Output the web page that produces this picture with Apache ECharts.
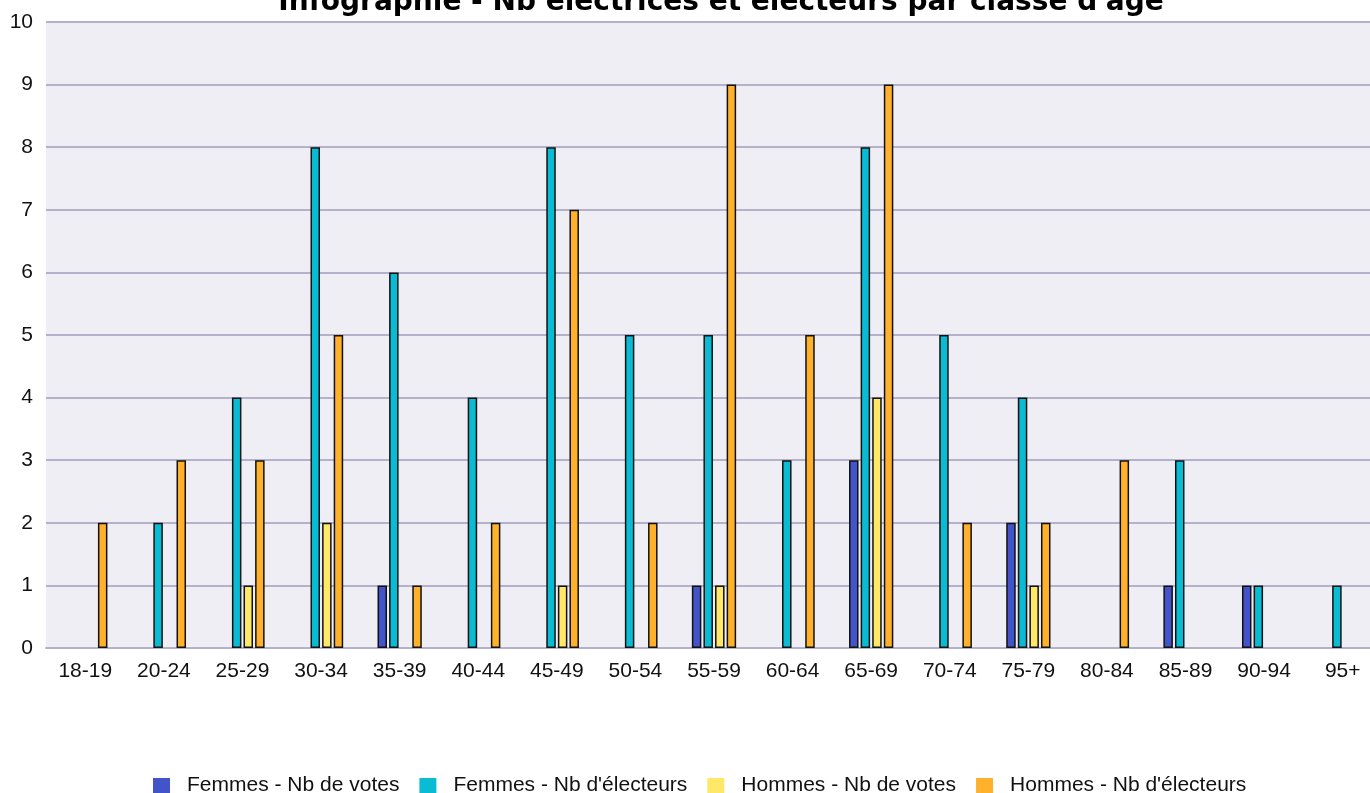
<!DOCTYPE html>
<html>
<head>
<meta charset="utf-8">
<script src="https://cdn.jsdelivr.net/npm/echarts@6/dist/echarts.min.js"></script>
<style>
html, body { margin: 0; padding: 0; background: #fff; }
#chart { width: 1370px; height: 793px; }
</style>
</head>
<body>
<div id="chart"></div>
<script>
// classes d'age
var categories = ['18-19', '20-24', '25-29', '30-34', '35-39', '40-44', '45-49', '50-54', '55-59',
	'60-64', '65-69', '70-74', '75-79', '80-84', '85-89', '90-94', '95+'];
var femmesVotes    = [0, 0, 0, 0, 1, 0, 0, 0, 1, 0, 3, 0, 2, 0, 1, 1, 0];
var femmesElecteurs = [0, 2, 4, 8, 6, 4, 8, 5, 5, 3, 8, 5, 4, 0, 3, 1, 1];
var hommesVotes    = [0, 0, 1, 2, 0, 0, 1, 0, 1, 0, 4, 0, 1, 0, 0, 0, 0];
var hommesElecteurs = [2, 3, 3, 5, 1, 2, 7, 2, 9, 5, 9, 2, 2, 3, 0, 0, 0];
var yTicks = [0, 1, 2, 3, 4, 5, 6, 7, 8, 9, 10];

var font = '"Liberation Sans", Arial, sans-serif';

function noZero(arr) {
	// une barre a 0 ne se dessine pas
	return arr.map(function (v) { return v === 0 ? '-' : v; });
}

function barSerie(name, data, color) {
	return {
		name: name,
		type: 'bar',
		barWidth: 9.5,
		barGap: '22%',
		data: noZero(data),
		itemStyle: { color: color, borderColor: '#111', borderWidth: 1.5 }
	};
}

var myChart = echarts.init(document.getElementById('chart'));
var option = {
	animation: false,
	title: {
		text: "Infographie - Nb électrices et électeurs par classe d'âge",
		left: 716,
		textAlign: 'center',
		top: -16,
		textStyle: { fontFamily: '"DejaVu Sans", Verdana, sans-serif', fontSize: 28, fontWeight: 'bold', color: '#000' }
	},
	legend: {
		left: 153,
		top: 775,
		padding: 0,
		itemWidth: 17,
		itemHeight: 15,
		itemGap: 20,
		icon: 'rect',
		itemStyle: { borderWidth: 0 },
		textStyle: { fontFamily: font, fontSize: 21, color: '#111', padding: [0, 0, 0, 12] },
		data: ['Femmes - Nb de votes', "Femmes - Nb d'électeurs", 'Hommes - Nb de votes', "Hommes - Nb d'électeurs"]
	},
	grid: {
		left: 46, width: 1336, top: 22, bottom: 145,
		outerBoundsMode: 'none',
		show: true, backgroundColor: '#EFEEF4', borderWidth: 0
	},
	xAxis: {
		type: 'category',
		data: categories,
		axisTick: { show: false },
		axisLine: { lineStyle: { color: '#B4B2CB', width: 2 } },
		axisLabel: { fontFamily: font, fontSize: 21, color: '#111', margin: 13 }
	},
	yAxis: {
		type: 'value',
		min: yTicks[0],
		max: yTicks[yTicks.length - 1],
		interval: 1,
		axisLine: { show: false },
		axisTick: { show: false },
		splitLine: { lineStyle: { color: '#B4B2CB', width: 2 } },
		axisLabel: { fontFamily: font, fontSize: 21, color: '#111', margin: 13 }
	},
	series: [
		barSerie('Femmes - Nb de votes', femmesVotes, '#4353C9'),
		barSerie("Femmes - Nb d'électeurs", femmesElecteurs, '#0ABCD3'),
		barSerie('Hommes - Nb de votes', hommesVotes, '#FFE767'),
		barSerie("Hommes - Nb d'électeurs", hommesElecteurs, '#FFB12C')
	]
};
myChart.setOption(option);
</script>
</body>
</html>
